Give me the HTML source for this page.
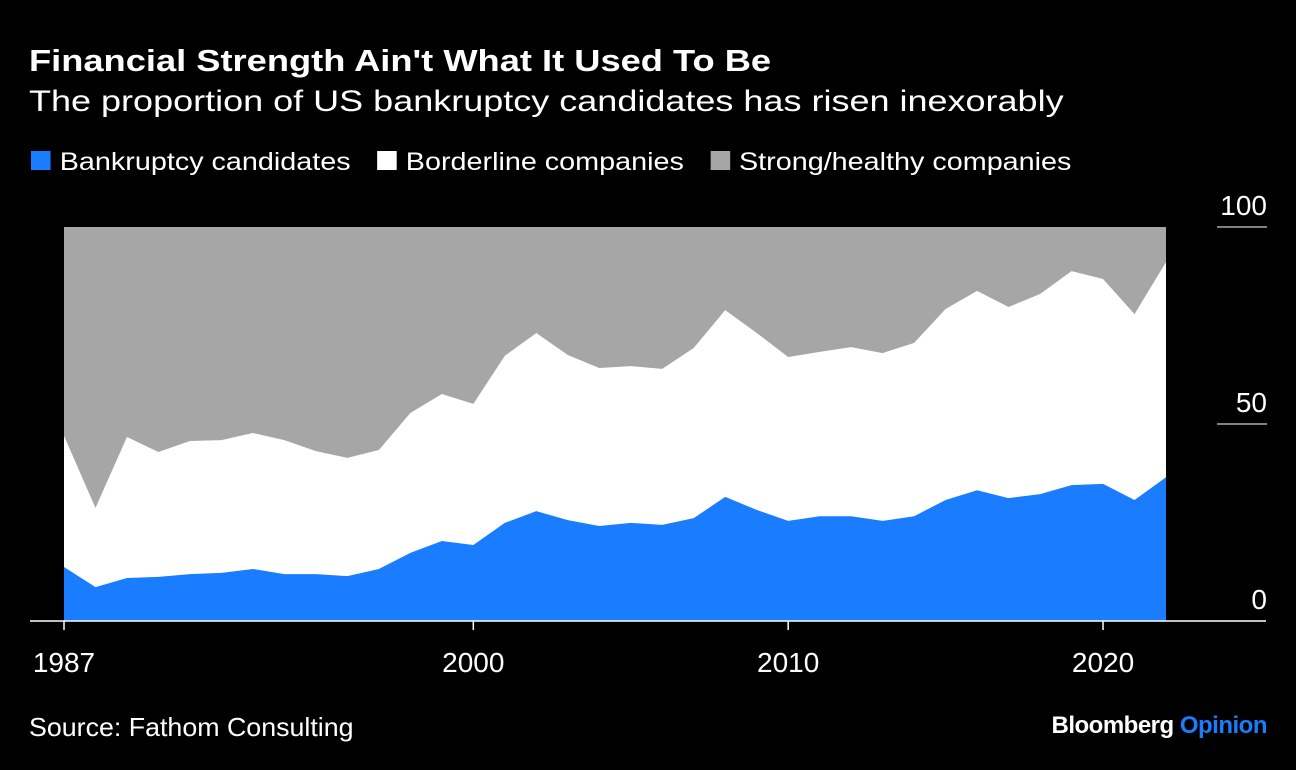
<!DOCTYPE html>
<html><head><meta charset="utf-8"><style>
body{margin:0;background:#000;width:1296px;height:770px;overflow:hidden;font-family:"Liberation Sans",sans-serif;color:#fff}
.t{position:absolute;white-space:nowrap;transform-origin:0 0}
</style></head><body>
<div class="t" style="left:29px;top:43px;font-size:31px;font-weight:bold;transform:scaleX(1.17)">Financial Strength Ain't What It Used To Be</div>
<div class="t" style="left:29px;top:85px;font-size:30px;transform:scaleX(1.2)">The proportion of US bankruptcy candidates has risen inexorably</div>
<div class="t" style="left:31px;top:148px;font-size:25px;transform:scaleX(1.15)">
<span><span style="display:inline-block;width:17px;height:19px;background:#1a7dff;margin-right:8px"></span>Bankruptcy candidates</span>
<span style="margin-left:16px"><span style="display:inline-block;width:17px;height:19px;background:#fff;margin-right:8px"></span>Borderline companies</span>
<span style="margin-left:16px"><span style="display:inline-block;width:17px;height:19px;background:#a6a6a6;margin-right:8px"></span>Strong/healthy companies</span>
</div>
<svg id="chart" width="1296" height="770" style="position:absolute;left:0;top:0"></svg>
<div class="t" style="left:29px;top:712px;font-size:26px;transform:scaleX(1.03)">Source: Fathom Consulting</div>
<div class="t" style="right:29px;top:712px;font-size:24px;font-weight:bold;letter-spacing:-0.5px">Bloomberg <span style="color:#1a7dff">Opinion</span></div>
<script>
const years=[1987,1988,1989,1990,1991,1992,1993,1994,1995,1996,1997,1998,1999,2000,2001,2002,2003,2004,2005,2006,2007,2008,2009,2010,2011,2012,2013,2014,2015,2016,2017,2018,2019,2020,2021,2022];
const bankruptcy=[13.7,8.6,10.9,11.2,11.9,12.2,13.2,11.9,11.9,11.4,13.2,17.3,20.3,19.3,24.9,27.9,25.6,24.1,24.9,24.4,26.1,31.5,28.2,25.4,26.6,26.6,25.4,26.6,30.7,33.2,31.2,32.2,34.5,34.8,30.7,36.5];
const borderline=[33.3,20.1,35.8,31.7,33.8,33.7,34.5,34.0,31.2,30.0,30.2,35.5,37.3,35.8,42.4,45.2,41.9,40.1,39.8,39.6,43.2,47.4,44.9,41.6,41.7,42.9,42.6,44.0,48.5,50.6,48.5,50.8,54.3,52.0,47.2,54.6];
const yTicks=[0,50,100];
const xTicks=[1987,2000,2010,2020];
const svg=document.getElementById('chart');
const NS='http://www.w3.org/2000/svg';
const x=v=>64+(v-1987)*(1166-64)/35;
const y=v=>621-v*3.94;
function mk(t,a){const e=document.createElementNS(NS,t);for(const k in a)e.setAttribute(k,a[k]);svg.appendChild(e);return e;}
const x0=x(years[0]),x1=x(years[years.length-1]);
const g=mk('rect',{x:x0,y:y(100),width:x1-x0,height:y(0)-y(100),fill:'#a6a6a6'});


const cum=years.map((_,i)=>bankruptcy[i]+borderline[i]);
function area(top,fill,name){
 let d='M'+x0+','+y(0);
 years.forEach((yr,i)=>{d+=' L'+x(yr)+','+y(top[i]);});
 d+=' L'+x1+','+y(0)+' Z';
 const p=mk('path',{d:d,fill:fill});
 
 
}
area(cum,'#fff','borderline-area');
area(bankruptcy,'#1a7dff','bankruptcy-area');
const base=mk('line',{x1:30,x2:1266,y1:y(0),y2:y(0),stroke:'#fff','stroke-width':1.5});


yTicks.forEach(v=>{
 if(v>0){const l=mk('line',{x1:1217,x2:1267,y1:y(v),y2:y(v),stroke:'#fff','stroke-width':1});
 
 }
 const t=mk('text',{x:1267,y:y(v)-12,'text-anchor':'end',fill:'#fff','font-size':28,'font-family':'Liberation Sans'});
 t.textContent=v;
 
 
});
xTicks.forEach(v=>{
 const l=mk('line',{x1:x(v),x2:x(v),y1:y(0),y2:y(0)+9,stroke:'#fff','stroke-width':1.5});
 
 
 const t=mk('text',{x:x(v),y:672,'text-anchor':'middle',fill:'#fff','font-size':28,'font-family':'Liberation Sans'});
 t.textContent=v;
 
 
});
</script>
</body></html>
